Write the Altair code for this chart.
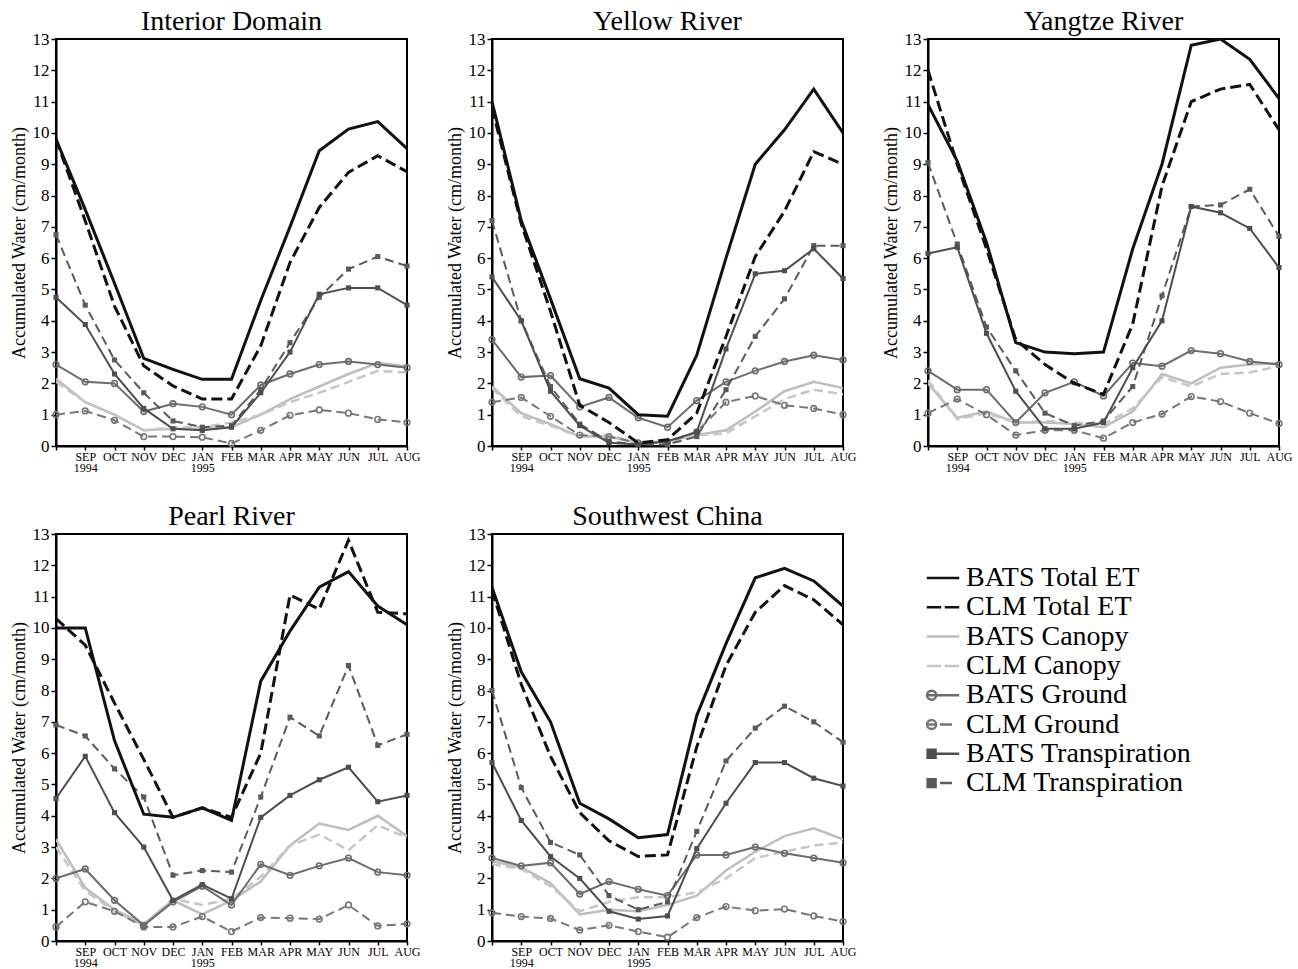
import json
import altair as alt
import pandas as pd

# ---------------- data ----------------
month_idx = list(range(13))
month_labels = ["", "SEP\n1994", "OCT", "NOV", "DEC", "JAN\n1995", "FEB",
                "MAR", "APR", "MAY", "JUN", "JUL", "AUG"]
y_ticks = list(range(14))

regions = ["Interior Domain", "Yellow River", "Yangtze River", "Pearl River", "Southwest China"]
series_names = ["BATS Total ET", "CLM Total ET", "BATS Canopy", "CLM Canopy",
                "BATS Ground", "CLM Ground", "BATS Transpiration", "CLM Transpiration"]

# Interior Domain
int_bats_total = [9.8, 7.55, 5.2, 2.8, 2.45, 2.13, 2.13, 4.65, 7.0, 9.43, 10.12, 10.36, 9.5]
int_clm_total = [9.8, 7.19, 4.47, 2.56, 1.92, 1.5, 1.5, 3.2, 5.86, 7.62, 8.74, 9.27, 8.76]
int_bats_canopy = [2.15, 1.4, 1.0, 0.5, 0.55, 0.55, 0.6, 1.0, 1.5, 1.9, 2.3, 2.65, 2.55]
int_clm_canopy = [2.05, 1.4, 1.0, 0.5, 0.6, 0.6, 0.75, 1.0, 1.4, 1.7, 2.05, 2.4, 2.35]
int_bats_ground = [2.6, 2.05, 2.0, 1.1, 1.35, 1.25, 1.0, 1.95, 2.3, 2.6, 2.7, 2.6, 2.5]
int_clm_ground = [1.0, 1.12, 0.82, 0.3, 0.3, 0.28, 0.08, 0.5, 0.98, 1.15, 1.05, 0.85, 0.75]
int_bats_transp = [4.75, 3.88, 2.3, 1.2, 0.55, 0.5, 0.6, 1.7, 3.0, 4.85, 5.05, 5.05, 4.5]
int_clm_transp = [6.75, 4.5, 2.75, 1.7, 0.8, 0.6, 0.65, 1.8, 3.3, 4.75, 5.65, 6.05, 5.75]

# Yellow River
yel_bats_total = [11.0, 7.2, 4.7, 2.15, 1.85, 1.0, 0.95, 2.9, 6.0, 9.0, 10.1, 11.4, 10.0]
yel_clm_total = [10.8, 7.1, 4.3, 1.3, 0.75, 0.1, 0.2, 1.05, 3.5, 6.05, 7.5, 9.4, 9.0]
yel_bats_canopy = [1.9, 1.05, 0.7, 0.3, 0.3, 0.1, 0.15, 0.35, 0.5, 1.1, 1.75, 2.05, 1.85]
yel_clm_canopy = [1.85, 0.95, 0.65, 0.3, 0.35, 0.1, 0.1, 0.35, 0.4, 0.95, 1.5, 1.8, 1.65]
yel_bats_ground = [3.4, 2.2, 2.25, 1.25, 1.55, 0.9, 0.6, 1.45, 2.05, 2.4, 2.7, 2.9, 2.75]
yel_clm_ground = [1.4, 1.55, 0.95, 0.35, 0.3, 0.1, 0.1, 0.45, 1.4, 1.6, 1.3, 1.2, 1.0]
yel_bats_transp = [5.4, 4.0, 1.75, 0.65, 0.1, 0.05, 0.15, 0.45, 3.1, 5.5, 5.6, 6.3, 5.35]
yel_clm_transp = [7.2, 4.0, 1.9, 0.7, 0.15, 0.05, 0.05, 0.3, 1.8, 3.5, 4.7, 6.4, 6.4]

# Yangtze River
yan_bats_total = [10.9, 9.1, 6.5, 3.3, 3.0, 2.95, 3.0, 6.3, 9.0, 12.8, 13.0, 12.35, 11.1]
yan_clm_total = [12.0, 9.0, 6.3, 3.4, 2.6, 2.0, 1.65, 3.9, 8.3, 11.0, 11.4, 11.55, 10.1]
yan_bats_canopy = [2.0, 0.9, 1.1, 0.75, 0.75, 0.7, 0.6, 1.1, 2.3, 2.0, 2.5, 2.6, 2.65]
yan_clm_canopy = [2.1, 0.85, 1.05, 0.75, 0.8, 0.75, 0.7, 1.2, 2.2, 1.9, 2.3, 2.35, 2.55]
yan_bats_ground = [2.4, 1.8, 1.8, 0.75, 1.7, 2.05, 1.6, 2.65, 2.55, 3.05, 2.95, 2.7, 2.6]
yan_clm_ground = [1.05, 1.5, 1.0, 0.35, 0.5, 0.5, 0.25, 0.75, 1.02, 1.58, 1.42, 1.05, 0.72]
yan_bats_transp = [6.15, 6.35, 3.6, 1.75, 0.55, 0.55, 0.75, 2.5, 4.0, 7.65, 7.45, 6.95, 5.7]
yan_clm_transp = [9.05, 6.45, 3.8, 2.4, 1.05, 0.65, 0.8, 1.9, 4.8, 7.65, 7.7, 8.2, 6.7]

# Pearl River
pea_bats_total = [10.0, 10.0, 6.4, 4.05, 3.95, 4.25, 3.85, 8.3, 9.9, 11.3, 11.8, 10.7, 10.1]
pea_clm_total = [10.3, 9.45, 7.6, 5.8, 3.95, 4.25, 3.95, 6.0, 11.05, 10.6, 12.8, 10.5, 10.45]
pea_bats_canopy = [3.25, 1.7, 1.0, 0.55, 1.3, 0.85, 1.3, 1.9, 3.05, 3.75, 3.55, 4.0, 3.35]
pea_clm_canopy = [3.0, 1.6, 0.95, 0.5, 1.35, 1.15, 1.35, 2.05, 3.05, 3.4, 2.9, 3.7, 3.3]
pea_bats_ground = [2.0, 2.3, 1.3, 0.5, 1.25, 1.75, 1.15, 2.45, 2.1, 2.4, 2.65, 2.2, 2.1]
pea_clm_ground = [0.45, 1.25, 0.95, 0.45, 0.45, 0.78, 0.3, 0.75, 0.73, 0.7, 1.15, 0.48, 0.55]
pea_bats_transp = [4.55, 5.9, 4.1, 3.0, 1.3, 1.8, 1.35, 3.95, 4.65, 5.15, 5.55, 4.45, 4.65]
pea_clm_transp = [6.9, 6.55, 5.5, 4.6, 2.1, 2.25, 2.2, 4.6, 7.15, 6.55, 8.8, 6.25, 6.6]

# Southwest China
sw_bats_total = [11.3, 8.6, 7.0, 4.4, 3.9, 3.3, 3.4, 7.2, 9.5, 11.6, 11.9, 11.5, 10.7]
sw_clm_total = [11.2, 8.2, 5.9, 4.1, 3.2, 2.7, 2.75, 6.2, 8.8, 10.5, 11.35, 10.9, 10.1]
sw_bats_canopy = [2.55, 2.35, 1.85, 0.85, 1.0, 0.95, 1.15, 1.45, 2.25, 2.85, 3.35, 3.6, 3.25]
sw_clm_canopy = [2.45, 2.3, 1.75, 0.95, 1.25, 1.4, 1.4, 1.55, 2.0, 2.65, 2.85, 3.05, 3.15]
sw_bats_ground = [2.65, 2.4, 2.5, 1.5, 1.9, 1.65, 1.45, 2.75, 2.75, 3.0, 2.8, 2.65, 2.5]
sw_clm_ground = [0.9, 0.78, 0.72, 0.35, 0.5, 0.3, 0.12, 0.75, 1.1, 0.97, 1.02, 0.8, 0.62]
sw_bats_transp = [5.7, 3.85, 2.7, 2.0, 0.95, 0.7, 0.8, 2.95, 4.4, 5.7, 5.7, 5.2, 4.95]
sw_clm_transp = [8.0, 4.9, 3.15, 2.75, 1.45, 1.0, 1.25, 3.5, 5.75, 6.8, 7.5, 7.0, 6.35]

region_series = {
    "Interior Domain": [int_bats_total, int_clm_total, int_bats_canopy, int_clm_canopy,
                        int_bats_ground, int_clm_ground, int_bats_transp, int_clm_transp],
    "Yellow River": [yel_bats_total, yel_clm_total, yel_bats_canopy, yel_clm_canopy,
                     yel_bats_ground, yel_clm_ground, yel_bats_transp, yel_clm_transp],
    "Yangtze River": [yan_bats_total, yan_clm_total, yan_bats_canopy, yan_clm_canopy,
                      yan_bats_ground, yan_clm_ground, yan_bats_transp, yan_clm_transp],
    "Pearl River": [pea_bats_total, pea_clm_total, pea_bats_canopy, pea_clm_canopy,
                    pea_bats_ground, pea_clm_ground, pea_bats_transp, pea_clm_transp],
    "Southwest China": [sw_bats_total, sw_clm_total, sw_bats_canopy, sw_clm_canopy,
                        sw_bats_ground, sw_clm_ground, sw_bats_transp, sw_clm_transp],
}

# ---------------- styles ----------------
FONT = "Liberation Serif"
styles = {
    "BATS Total ET": dict(color="#111111", dash=None, width=3.0, marker=None),
    "CLM Total ET": dict(color="#111111", dash=[11, 5], width=3.0, marker=None),
    "BATS Canopy": dict(color="#bebebe", dash=None, width=2.5, marker=None),
    "CLM Canopy": dict(color="#c6c6c6", dash=[9, 5], width=2.5, marker=None),
    "BATS Ground": dict(color="#6c6c6c", dash=None, width=2.0, marker="circle"),
    "CLM Ground": dict(color="#777777", dash=[9, 5], width=2.0, marker="circle"),
    "BATS Transpiration": dict(color="#4e4e4e", dash=None, width=2.0, marker="square"),
    "CLM Transpiration": dict(color="#5a5a5a", dash=[9, 5], width=2.0, marker="square"),
}
draw_order = ["BATS Canopy", "CLM Canopy", "CLM Ground", "BATS Ground",
              "CLM Transpiration", "BATS Transpiration", "CLM Total ET", "BATS Total ET"]

# legend symbols: line (+ marker) drawn as custom paths
SQ = "M-1.28,-0.33H-0.62V0.33H-1.28ZM-1.28,-0.17H-0.62M-1.28,0.17H-0.62"
CI = "M-0.57,0A0.38,0.38,0,1,1,-1.33,0A0.38,0.38,0,1,1,-0.57,0Z"
legend_paths = [
    "M-1.35,0H1.35",
    "M-1.35,0H-0.15M0.15,0H1.35",
    "M-1.35,0H1.35",
    "M-1.35,0H-0.15M0.15,0H1.35",
    CI + "M-1.33,0H1.35",
    CI + "M-1.33,0H-0.57M-0.25,0H0.75",
    SQ + "M-1.28,0H1.35",
    SQ + "M-1.28,0H-0.62M-0.25,0H0.75",
]
legend_colors = ["#111111", "#111111", "#bebebe", "#c6c6c6",
                 "#6c6c6c", "#777777", "#4e4e4e", "#5a5a5a"]

label_expr = json.dumps([m.split("\n") for m in month_labels]) + "[datum.value]"

X = alt.X("month:Q",
          scale=alt.Scale(domain=[0, 12], nice=False, zero=False),
          axis=alt.Axis(values=month_idx, labelExpr=label_expr, title=None,
                        labelFont=FONT, labelFontSize=12, labelColor="black",
                        labelAngle=0, labelPadding=1, labelLineHeight=11.5,
                        labelFlush=False, labelOverlap=False,
                        tickSize=4, tickColor="black", tickWidth=1.5,
                        domainColor="black", domainWidth=2, grid=False))
Y = alt.Y("value:Q",
          scale=alt.Scale(domain=[0, 13], nice=False, zero=True),
          axis=alt.Axis(values=y_ticks, title="Accumulated Water (cm/month)",
                        titleFont=FONT, titleFontSize=18, titleFontWeight="normal",
                        titleColor="black", titlePadding=4,
                        labelFont=FONT, labelFontSize=17, labelColor="black",
                        labelPadding=2, labelFlush=False,
                        tickSize=5, tickColor="black", tickWidth=1.5,
                        domainColor="black", domainWidth=2, grid=False))


def make_panel(region, with_legend=False):
    vals = dict(zip(series_names, region_series[region]))
    layers = []
    for s in draw_order:
        df = pd.DataFrame({"month": month_idx, "value": vals[s]})
        st = styles[s]
        kw = dict(color=st["color"], strokeWidth=st["width"], clip=True)
        if st["dash"]:
            kw["strokeDash"] = st["dash"]
        layers.append(alt.Chart(df).mark_line(**kw).encode(x=X, y=Y))
        if st["marker"] == "circle":
            layers.append(alt.Chart(df).mark_point(shape="circle", filled=False, color=st["color"],
                                                   size=32, strokeWidth=1.6, opacity=1)
                          .encode(x=X, y=Y))
        elif st["marker"] == "square":
            layers.append(alt.Chart(df).mark_square(color=st["color"], size=26, opacity=1)
                          .encode(x=X, y=Y))
    if with_legend:
        leg_df = pd.DataFrame({"series": series_names})
        leg = alt.Legend(title=None, orient="none", legendX=873, legendY=525,
                         labelFont=FONT, labelFontSize=28, labelColor="black",
                         symbolSize=576, symbolStrokeWidth=2.5, symbolOpacity=1,
                         symbolFillColor="transparent", labelOffset=9, rowPadding=1.3,
                         labelLimit=400)
        layers.append(
            alt.Chart(leg_df).mark_point(filled=False, opacity=0).encode(
                stroke=alt.Stroke("series:N", sort=series_names,
                                  scale=alt.Scale(domain=series_names, range=legend_colors),
                                  legend=leg),
                shape=alt.Shape("series:N", sort=series_names,
                                scale=alt.Scale(domain=series_names, range=legend_paths),
                                legend=leg),
            )
        )
    return alt.layer(*layers).properties(
        width=351, height=407,
        title=alt.TitleParams(region, font=FONT, fontSize=28, fontWeight="normal",
                              color="black", offset=-6, anchor="middle"),
    )


panels = [make_panel(r, with_legend=(r == "Southwest China")) for r in regions]
chart = alt.concat(*panels, columns=3, spacing={"row": 88, "column": 85}, bounds="flush").configure_view(
    stroke="black", strokeWidth=2
).properties(background="white", padding={"left": 9, "top": 7, "right": 5, "bottom": 5})

chart.save("out.html", embed_options={"renderer": "svg", "actions": False})
